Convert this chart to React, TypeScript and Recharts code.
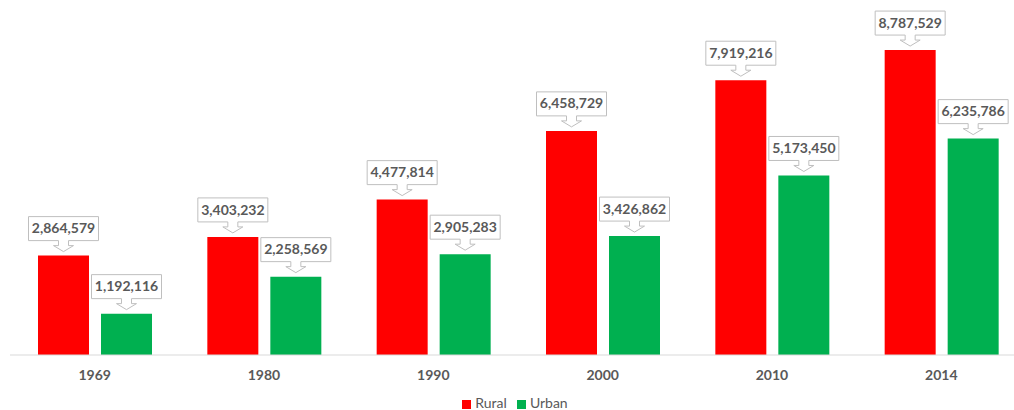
import { BarChart, Bar, XAxis, YAxis, Legend, LabelList } from "recharts";

const years = ["1969", "1980", "1990", "2000", "2010", "2014"];
const rural = [2864579, 3403232, 4477814, 6458729, 7919216, 8787529];
const urban = [1192116, 2258569, 2905283, 3426862, 5173450, 6235786];

const data = years.map((year, i) => ({ year, rural: rural[i], urban: urban[i] }));

const fmt = (v: number) => v.toLocaleString("en-US");

// callout box with a little block arrow pointing at the bar top
const Callout = (props: any) => {
  const { x, y, width, value } = props;
  const cx = x + width / 2;
  const bw = 70;
  const top = y - 39;
  const bottom = y - 15;
  const neck = y - 10;
  const tip = y - 4;
  const left = cx - bw / 2;
  const right = cx + bw / 2;
  const d = [
    `M${left},${top}`,
    `L${right},${top}`,
    `L${right},${bottom}`,
    `L${cx + 5},${bottom}`,
    `L${cx + 5},${neck}`,
    `L${cx + 10},${neck}`,
    `L${cx},${tip}`,
    `L${cx - 10},${neck}`,
    `L${cx - 5},${neck}`,
    `L${cx - 5},${bottom}`,
    `L${left},${bottom}`,
    "Z",
  ].join(" ");
  return (
    <g>
      <path d={d} fill="#fff" stroke="#bfbfbf" strokeWidth={1} />
      <text
        x={cx}
        y={(top + bottom) / 2 + 1}
        textAnchor="middle"
        dominantBaseline="middle"
        fill="#595959"
        fontSize={14}
        fontWeight="bold"
        fontFamily="Lato, sans-serif"
      >
        {fmt(value)}
      </text>
    </g>
  );
};

export default function App() {
  return (
    <div style={{ position: "absolute", left: 0, top: 0, background: "#fff" }}>
      <BarChart
        width={1014}
        height={410}
        data={data}
        margin={{ top: 8, right: -12, bottom: 0, left: 10 }}
        barGap={12}
        barCategoryGap={28}
      >
        <XAxis
          dataKey="year"
          height={35}
          axisLine={{ stroke: "#d9d9d9" }}
          tickLine={false}
          tickMargin={9}
          tick={{ fill: "#595959", fontSize: 14, fontWeight: "bold", fontFamily: "Lato, sans-serif" }}
        />
        <YAxis hide domain={[0, 10000000]} />
        <Legend
          verticalAlign="bottom"
          height={20}
          iconType="square"
          iconSize={9}
          wrapperStyle={{ bottom: -4, left: 13, width: 1014, fontFamily: "Lato, sans-serif", fontSize: 14, color: "#595959" }}
          formatter={(v) => <span style={{ color: "#595959" }}>{v}</span>}
        />
        <Bar dataKey="rural" name="Rural" fill="#ff0000" isAnimationActive={false}>
          <LabelList dataKey="rural" content={Callout} />
        </Bar>
        <Bar dataKey="urban" name="Urban" fill="#00b050" isAnimationActive={false}>
          <LabelList dataKey="urban" content={Callout} />
        </Bar>
      </BarChart>
    </div>
  );
}
